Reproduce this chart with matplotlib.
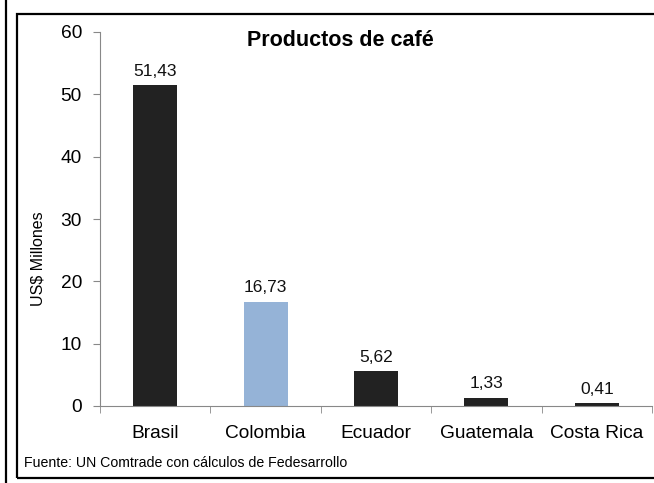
import matplotlib.pyplot as plt
import numpy as np
from matplotlib.patches import Rectangle
from matplotlib.lines import Line2D

plt.rcParams['font.family'] = ['Liberation Sans', 'DejaVu Sans']

paises = ["Brasil", "Colombia", "Ecuador", "Guatemala", "Costa Rica"]
valores = [51.43, 16.73, 5.62, 1.33, 0.41]
etiquetas = ["51,43", "16,73", "5,62", "1,33", "0,41"]
colores = ["#222222", "#95B3D7", "#222222", "#222222", "#222222"]

fig = plt.figure(figsize=(6.54, 4.83), dpi=100)
ax = fig.add_axes([100/654, 1 - 406/483, 552/654, 374/483])

x = np.arange(len(paises))
ax.bar(x, valores, width=0.4, color=colores)
for xi, v, lab in zip(x, valores, etiquetas):
    ax.text(xi, v + 1.0, lab, ha='center', va='bottom', fontsize=12.5, color='#111111')

ax.set_xlim(-0.5, len(paises) - 0.5)
ax.set_ylim(0, 60)
ax.set_yticks(range(0, 61, 10))
ax.set_xticks(x)
ax.set_xticklabels(paises)
ax.set_xticks(np.arange(-0.5, len(paises)), minor=True)
ax.tick_params(axis='x', which='major', length=0, pad=14, labelsize=13.8)
ax.tick_params(axis='x', which='minor', length=5, color='#888888')
ax.tick_params(axis='y', length=5, color='#888888', labelsize=13.8, pad=8)

for s in ['top', 'right']:
    ax.spines[s].set_visible(False)
for s in ['left', 'bottom']:
    ax.spines[s].set_color('#888888')

fig.text(340/654, 1 - 40/483, "Productos de café", ha='center', va='center',
         fontsize=15.5, fontweight='bold')
fig.text(38/654, 1 - 259/483, "US$ Millones", rotation=90, ha='center', va='center', fontsize=11.5)
fig.text(24/654, 1 - 463/483, "Fuente: UN Comtrade con cálculos de Fedesarrollo",
         ha='left', va='center', fontsize=10.2)

# marcos
fig.patches.append(Rectangle((17/654, 1 - 478/483), 660/654, 464/483, transform=fig.transFigure,
                             fill=False, edgecolor='black', linewidth=1.6))
fig.lines.append(Line2D([6/654, 6/654], [0, 1], transform=fig.transFigure, color='black', linewidth=1.6))

fig.savefig("out.png", dpi=100)
